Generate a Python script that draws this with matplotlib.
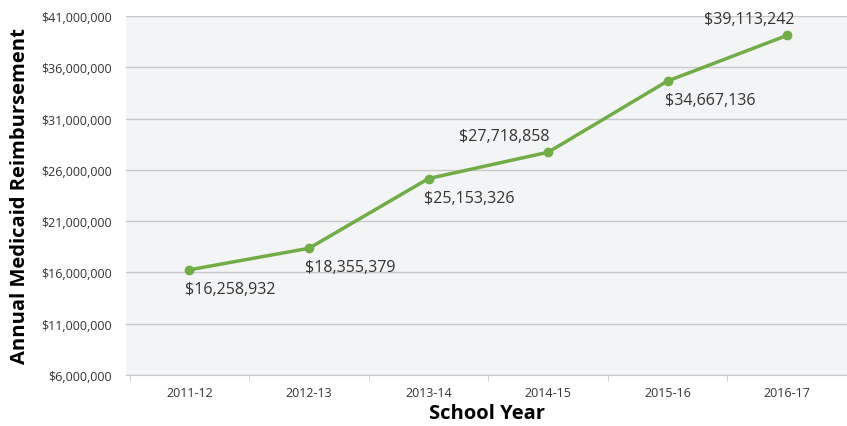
import matplotlib
matplotlib.use("Agg")
import matplotlib.pyplot as plt
from matplotlib.ticker import FuncFormatter

plt.rcParams['font.family'] = ['Open Sans', 'DejaVu Sans']

years = ['2011-12', '2012-13', '2013-14', '2014-15', '2015-16', '2016-17']
reimbursement = [16258932, 18355379, 25153326, 27718858, 34667136, 39113242]
# label placement (dx, dy in points, ha, va) for each point
label_pos = [(-3, -8, 'left', 'top'),
             (-3, -8, 'left', 'top'),
             (-3, -8, 'left', 'top'),
             (1, 6, 'right', 'bottom'),
             (-2, -8, 'left', 'top'),
             (5, 6, 'right', 'bottom')]

green = '#70ad47'

fig = plt.figure(figsize=(8.47, 4.27), dpi=100)
ax = fig.add_axes([126 / 847, 1 - 376 / 427, 721 / 847, 359 / 427])
ax.set_facecolor('#f3f4f6')

x = list(range(len(years)))
ax.plot(x, reimbursement, color=green, lw=2.5, marker='o', ms=6, zorder=3)

for xi, v, (dx, dy, ha, va) in zip(x, reimbursement, label_pos):
    ax.annotate('${:,}'.format(v), (xi, v), xytext=(dx, dy),
                textcoords='offset points', ha=ha, va=va,
                fontsize=11.5, color='#333333')

ax.set_ylim(6e6, 41e6)
ax.set_yticks(range(6000000, 41000001, 5000000))
ax.yaxis.set_major_formatter(FuncFormatter(lambda v, p: '${:,.0f}'.format(v)))
ax.set_xlim(-0.531, 5.452)
ax.set_xticks(x)
ax.set_xticklabels(years)
ax.set_xticks([i - 0.5 for i in range(7)], minor=True)

ax.grid(axis='y', color='#c8c8c8', lw=1)
ax.set_axisbelow(True)
for s in ['top', 'right', 'left']:
    ax.spines[s].set_visible(False)
ax.spines['bottom'].set_color('#c8c8c8')
ax.tick_params(axis='y', length=0, labelsize=9, colors='#333333', pad=10)
ax.tick_params(axis='x', which='major', length=0, labelsize=9, colors='#333333', pad=8)
ax.tick_params(axis='x', which='minor', length=4, color='#c8c8c8')

ax.set_xlabel('School Year', fontsize=14.5, fontweight='bold', labelpad=3)
ax.set_ylabel('Annual Medicaid Reimbursement', fontsize=14.5, fontweight='bold', labelpad=8)

fig.savefig('out.png', dpi=100)
